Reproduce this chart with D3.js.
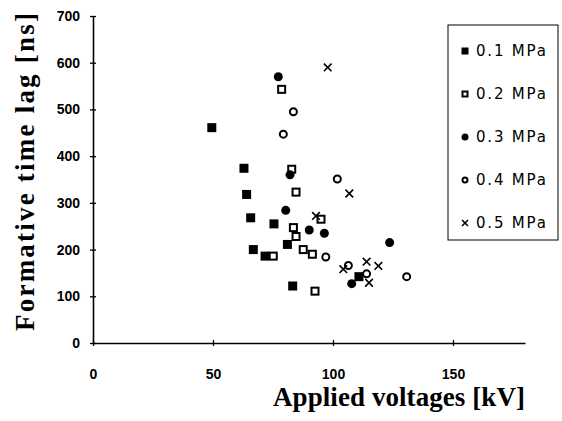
<!DOCTYPE html>
<html>
<head>
<meta charset="utf-8">
<script src="https://cdn.jsdelivr.net/npm/d3@7"></script>
<style>
  html, body { margin: 0; padding: 0; background: #fff; }
  svg { display: block; }
</style>
</head>
<body>
<svg id="chart" width="562" height="421"></svg>
<script>
// Gas pressures shown in the legend, with their marker style
const pressures = ["0.1 MPa", "0.2 MPa", "0.3 MPa", "0.4 MPa", "0.5 MPa"];
const markerKinds = ["filledSquare", "openSquare", "filledCircle", "openCircle", "cross"];

// Applied voltage [kV] and formative time lag [ns] for each pressure
const volts01 = [49.5, 62.9, 64.0, 65.7, 66.8, 71.7, 75.4, 81.0, 83.2, 110.8];
const lags01  = [461, 374, 318, 268, 200, 186, 255, 211, 122, 142];

const volts02 = [78.6, 82.8, 84.6, 95.0, 83.5, 84.6, 87.6, 91.4, 92.5, 75.1];
const lags02  = [543, 372, 323, 265, 247, 228, 200, 190, 111, 186];

const volts03 = [77.2, 82.1, 80.3, 90.1, 96.4, 123.6, 107.8];
const lags03  = [570, 360, 284, 242, 235, 215, 127];

const volts04 = [83.5, 79.3, 101.8, 97.0, 106.4, 114.0, 130.7];
const lags04  = [495, 447, 351, 184, 166, 148, 142];

const volts05 = [97.8, 106.8, 92.9, 104.3, 114.0, 118.9, 115.0];
const lags05  = [590, 320, 272, 158, 174, 165, 129];

// Axis ticks
const xTicks = [0, 50, 100, 150];
const yTicks = [0, 100, 200, 300, 400, 500, 600, 700];

const seriesVolts = [volts01, volts02, volts03, volts04, volts05];
const seriesLags  = [lags01, lags02, lags03, lags04, lags05];

const svg = d3.select("#chart");

const x = d3.scaleLinear().domain([0, 180]).range([93, 525]);
const y = d3.scaleLinear().domain([0, 700]).range([343, 16]);

const tickFont = "'Liberation Sans', Arial, sans-serif";
const legendFont = "'DejaVu Sans', Verdana, sans-serif";
const titleFont = "'Liberation Serif', 'Times New Roman', serif";

// Y axis with ticks crossing the axis line
const yAxis = svg.append("g")
  .attr("transform", `translate(${x(0)},0)`)
  .call(d3.axisLeft(y).tickValues(yTicks).tickSize(3).tickSizeOuter(0).tickPadding(10));
yAxis.selectAll(".tick line").attr("x1", 3).attr("x2", -3);

// X axis
const xAxis = svg.append("g")
  .attr("transform", `translate(0,${y(0)})`)
  .call(d3.axisBottom(x).tickValues(xTicks).tickSize(3).tickSizeOuter(0).tickPadding(23));
xAxis.selectAll(".tick line").attr("y1", -3).attr("y2", 3);

svg.selectAll(".domain").attr("stroke", "#000").attr("stroke-width", 1.6);
svg.selectAll(".tick line").attr("stroke", "#000").attr("stroke-width", 1.3);
svg.selectAll(".tick text")
  .attr("fill", "#000")
  .style("font-family", tickFont)
  .style("font-weight", "bold")
  .style("font-size", "14px");

// Axis titles
svg.append("text")
  .attr("x", 273).attr("y", 406)
  .attr("textLength", 252).attr("lengthAdjust", "spacing")
  .style("font-family", titleFont).style("font-weight", "bold").style("font-size", "27px")
  .attr("fill", "#000")
  .text("Applied voltages [kV]");

svg.append("text")
  .attr("transform", "translate(34,172) rotate(-90)")
  .attr("text-anchor", "middle")
  .attr("textLength", 318).attr("lengthAdjust", "spacing")
  .style("font-family", titleFont).style("font-weight", "bold").style("font-size", "27px")
  .attr("fill", "#000")
  .text("Formative time lag [ns]");

// Marker drawing
function drawMarker(g, kind, cx, cy, s) {
  const h = s / 2;
  if (kind === "filledSquare") {
    g.append("rect").attr("x", cx - h).attr("y", cy - h).attr("width", s).attr("height", s)
      .attr("fill", "#000");
  } else if (kind === "openSquare") {
    g.append("rect").attr("x", cx - h + 1).attr("y", cy - h + 1).attr("width", s - 2).attr("height", s - 2)
      .attr("fill", "#fff").attr("stroke", "#000").attr("stroke-width", 2);
  } else if (kind === "filledCircle") {
    g.append("circle").attr("cx", cx).attr("cy", cy).attr("r", h).attr("fill", "#000");
  } else if (kind === "openCircle") {
    g.append("circle").attr("cx", cx).attr("cy", cy).attr("r", h - 1)
      .attr("fill", "#fff").attr("stroke", "#000").attr("stroke-width", 2);
  } else {
    const c = h * 0.85;
    g.append("path")
      .attr("d", `M${cx - c},${cy - c}L${cx + c},${cy + c}M${cx - c},${cy + c}L${cx + c},${cy - c}`)
      .attr("stroke", "#000").attr("stroke-width", 1.6).attr("fill", "none");
  }
}

// Data points
const plot = svg.append("g");
seriesVolts.forEach((vs, i) => {
  const g = plot.append("g");
  vs.forEach((v, j) => {
    drawMarker(g, markerKinds[i], x(v), y(seriesLags[i][j]), 9);
  });
});

// Legend
const legend = svg.append("g");
legend.append("rect")
  .attr("x", 448).attr("y", 25).attr("width", 110).attr("height", 215)
  .attr("fill", "none").attr("stroke", "#000").attr("stroke-width", 1);

pressures.forEach((p, i) => {
  const ly = 51 + i * 43;
  drawMarker(legend, markerKinds[i], 465, ly, 7);
  legend.append("text")
    .attr("x", 476).attr("y", ly + 5)
    .attr("textLength", 70).attr("lengthAdjust", "spacing")
    .style("font-family", legendFont).style("font-size", "15px")
    .attr("fill", "#000")
    .text(p);
});
</script>
</body>
</html>
